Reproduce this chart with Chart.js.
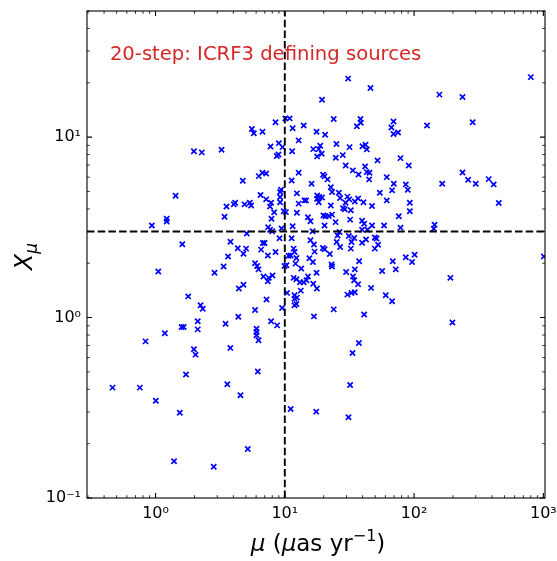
<!DOCTYPE html>
<html>
<head>
<meta charset="utf-8">
<script src="https://cdn.jsdelivr.net/npm/chart.js@4.4.1/dist/chart.umd.min.js"></script>
<style>
html,body{margin:0;padding:0;background:#ffffff;}
canvas{display:block;}
</style>
</head>
<body>
<canvas id="c" width="557" height="561" style="width:557px;height:561px"></canvas>
<script>
// ---- data ----
const muValues = [
 1.98,2.28,3.24,1.43,0.936,1.22,1.22,3.54,4.03,4.13,3.42,1.61,3.80,4.33,3.64,3.36,2.86,1.05,1.79,2.23,
 2.32,4.41,2.12,2.12,1.59,1.65,1.18,0.837,3.48,4.37,1.98,2.04,3.79,1.72,3.59,0.465,0.756,1.005,1.54,1.39,
 2.82,7.83,8.72,6.04,6.04,6.04,6.26,6.18,4.54,11.1,17.5,5.17,16.8,19.4,10.1,10.9,8.48,5.56,5.76,6.72,
 11.5,14.0,17.6,20.5,12.8,8.99,7.75,9.60,11.4,8.94,8.67,16.6,18.8,18.3,17.8,19.3,6.72,7.17,6.29,4.73,
 12.8,11.3,19.8,20.3,16.1,9.36,9.20,9.20,6.49,7.17,12.4,14.2,14.6,17.8,18.5,17.8,18.3,19.4,21.4,4.88,
 5.36,5.49,7.83,7.69,9.20,8.27,7.89,9.82,10.2,12.8,12.4,15.1,15.8,19.9,20.7,20.3,11.5,7.43,7.69,7.98,
 9.43,16.4,5.08,9.10,11.3,15.8,6.76,6.97,16.8,19.7,20.3,5.02,4.79,6.56,8.48,7.39,11.7,11.9,17.0,10.7,
 11.1,12.3,15.5,16.5,5.89,6.11,6.26,10.3,9.95,12.1,13.4,17.6,6.84,7.52,8.03,7.39,11.7,12.3,13.1,14.0,
 14.7,15.1,16.6,17.7,4.79,13.3,10.4,11.9,12.4,11.9,7.22,12.3,11.9,9.53,5.89,30.9,46.0,23.9,38.5,38.7,
 36.1,69.3,66.8,69.3,75.2,126,25.1,31.7,39.9,42.1,43.1,28.1,24.8,78.5,52.1,91.0,29.6,41.8,33.6,37.2,
 43.1,45.2,44.9,61.5,69.7,86.3,89.4,67.6,22.7,23.2,26.2,54.3,26.8,30.5,31.5,36.9,61.5,29.5,28.2,29.1,
 34.8,40.6,22.7,32.4,47.3,92.7,92.7,76.2,21.9,23.2,32.0,24.7,39.6,41.1,47.3,58.6,78.5,39.6,43.6,26.5,
 25.6,31.3,34.4,32.8,25.2,26.8,39.6,42.5,49.7,51.2,52.7,49.7,32.4,22.3,86.3,101,96.5,37.6,68.4,23.0,
 23.2,34.8,29.8,56.6,72.2,33.7,34.4,36.9,46.5,30.5,32.8,34.8,60.4,67.6,23.9,41.1,37.4,33.4,32.0,31.1,
 800,157,237,284,237,165,262,300,378,413,452,144,142,1010,191,198
];
const xmuValues = [
 8.36,8.23,8.51,4.73,3.24,3.53,3.41,4.13,4.24,4.33,3.62,2.55,2.63,2.42,2.18,1.92,1.77,1.80,1.31,1.17,
 1.12,1.45,0.953,0.860,0.886,0.886,0.818,0.738,0.925,1.01,0.667,0.623,0.679,0.483,0.427,0.409,0.409,0.346,0.297,0.160,
 0.149,0.953,0.905,0.868,0.831,0.797,0.748,0.503,0.371,0.311,0.301,0.187,1.015,16.1,12.7,12.7,12.1,11.1,10.5,10.7,
 11.2,11.6,10.7,10.3,9.59,9.26,8.88,8.80,8.36,8.02,7.85,8.58,8.96,8.58,7.82,8.09,6.35,6.29,6.08,5.73,
 6.35,5.75,6.19,6.06,5.52,5.11,4.96,4.66,4.78,4.52,4.88,4.46,4.46,4.75,4.66,4.55,4.36,4.63,5.83,4.24,
 4.33,4.18,4.33,4.12,4.36,3.83,3.53,3.88,3.84,4.28,3.81,3.60,3.42,3.68,3.64,3.24,3.21,3.17,3.07,3.01,
 3.12,3.01,2.92,2.75,2.75,2.68,2.59,2.59,2.54,2.43,2.39,2.41,2.26,2.38,2.31,2.21,2.41,2.31,2.32,2.20,
 2.21,2.14,2.13,2.03,2.00,1.93,1.85,1.95,1.93,1.99,1.87,1.77,1.69,1.66,1.71,1.59,1.66,1.63,1.57,1.57,
 1.61,1.69,1.54,1.45,1.52,1.41,1.37,1.33,1.29,1.27,1.26,1.19,1.17,1.13,1.10,21.1,18.7,12.6,12.6,12.0,
 11.5,12.2,11.3,10.4,10.6,11.6,9.15,8.80,8.91,9.08,8.55,7.95,7.69,7.65,7.43,6.97,6.97,6.88,6.54,6.21,
 6.40,6.35,5.83,6.00,5.52,5.47,5.11,5.07,5.28,4.96,4.92,4.92,4.60,4.68,4.52,4.57,4.46,4.33,4.04,3.98,
 4.40,4.36,4.18,3.93,4.15,4.33,3.88,3.64,3.65,3.72,3.49,3.38,3.44,3.31,3.24,3.24,3.15,3.07,3.07,2.98,
 2.85,2.83,2.76,2.62,2.62,2.46,2.60,2.71,2.78,2.74,2.53,2.41,2.41,2.25,2.16,2.23,2.03,2.05,2.05,1.97,
 1.92,1.85,1.79,1.81,1.85,1.69,1.61,1.53,1.46,1.34,1.37,1.38,1.33,1.23,1.11,1.04,0.722,0.636,0.423,0.280,
 21.5,17.2,16.7,12.1,6.37,5.52,5.81,5.52,5.85,5.47,4.31,3.27,3.11,2.18,1.66,0.940
];
const muCut = 10;          // vertical dashed line
const xmuCut = 3;          // horizontal dashed line
const xRange = [0.295, 1030];
const yRange = [0.1, 50];
const xTickValues = [1, 10, 100, 1000];
const xTickLabels = ['10\u2070', '10\u00B9', '10\u00B2', '10\u00B3'];
const yTickValues = [0.1, 1, 10];
const yTickLabels = ['10\u207B\u00B9', '10\u2070', '10\u00B9'];
const annotationText = '20-step: ICRF3 defining sources';

// ---- chart ----
const FONT = '"DejaVu Sans", "Liberation Sans", sans-serif';

function drawRuns(ctx, runs, cx, baseline) {
  let w = 0;
  runs.forEach(r => { ctx.font = r.font; r.w = ctx.measureText(r.t).width; w += r.w; });
  let x = cx - w / 2;
  ctx.textAlign = 'left';
  ctx.textBaseline = 'alphabetic';
  runs.forEach(r => { ctx.font = r.font; ctx.fillText(r.t, x, baseline + (r.dy || 0)); x += r.w; });
}

function logTicks(min, max) {
  const out = [];
  for (let k = Math.floor(Math.log10(min)); k <= Math.ceil(Math.log10(max)); k++) {
    for (let m = 1; m < 10; m++) {
      const v = m * Math.pow(10, k);
      if (v >= min * 0.9999 && v <= max * 1.0001) out.push([v, m === 1]);
    }
  }
  return out;
}

const framePlugin = {
  id: 'framePlugin',
  afterDatasetsDraw(chart) {
    const { ctx, chartArea: a, scales } = chart;
    const xs = scales.x, ys = scales.y;
    ctx.save();
    ctx.strokeStyle = '#000';
    // inward ticks on all four sides
    logTicks(xs.min, xs.max).forEach(([v, major]) => {
      const p = xs.getPixelForValue(v);
      const len = major ? 5 : 2.8;
      ctx.lineWidth = major ? 1.1 : 0.8;
      ctx.beginPath();
      ctx.moveTo(p, a.bottom); ctx.lineTo(p, a.bottom - len);
      ctx.moveTo(p, a.top); ctx.lineTo(p, a.top + len);
      ctx.stroke();
    });
    logTicks(ys.min, ys.max).forEach(([v, major]) => {
      const p = ys.getPixelForValue(v);
      const len = major ? 5 : 2.8;
      ctx.lineWidth = major ? 1.1 : 0.8;
      ctx.beginPath();
      ctx.moveTo(a.left, p); ctx.lineTo(a.left + len, p);
      ctx.moveTo(a.right, p); ctx.lineTo(a.right - len, p);
      ctx.stroke();
    });
    ctx.lineWidth = 1.1;
    ctx.strokeRect(a.left, a.top, a.right - a.left, a.bottom - a.top);

    // annotation
    ctx.fillStyle = '#d62728';
    ctx.font = '19.6px ' + FONT;
    ctx.textAlign = 'left';
    ctx.textBaseline = 'alphabetic';
    ctx.fillText(annotationText, a.left + 0.05 * (a.right - a.left), a.top + 0.1 * (a.bottom - a.top));

    // axis titles
    ctx.fillStyle = '#000';
    const big = '23px ' + FONT, bigI = 'italic 23px ' + FONT, sm = '16px ' + FONT;
    drawRuns(ctx, [
      { t: '\u03BC', font: bigI },
      { t: ' (', font: big },
      { t: '\u03BC', font: bigI },
      { t: 'as yr', font: big },
      { t: '\u22121', font: sm, dy: -10 },
      { t: ')', font: big }
    ], (a.left + a.right) / 2 + 2, 551);

    ctx.translate(32, (a.top + a.bottom) / 2 + 2);
    ctx.rotate(-Math.PI / 2);
    drawRuns(ctx, [
      { t: 'X', font: 'italic 24px ' + FONT },
      { t: '\u03BC', font: 'italic 17px ' + FONT, dy: 5 }
    ], 0, 0);
    ctx.restore();
  }
};

const points = muValues.map((m, i) => ({ x: m, y: xmuValues[i] }));

new Chart(document.getElementById('c'), {
  type: 'scatter',
  data: {
    datasets: [
      {
        data: [{ x: muCut, y: yRange[0] }, { x: muCut, y: yRange[1] }],
        showLine: true, borderColor: '#000', borderWidth: 1.9, borderDash: [7.5, 3.2],
        pointRadius: 0, fill: false
      },
      {
        data: [{ x: xRange[0], y: xmuCut }, { x: xRange[1], y: xmuCut }],
        showLine: true, borderColor: '#000', borderWidth: 1.9, borderDash: [7.5, 3.2],
        pointRadius: 0, fill: false
      },
      {
        data: points,
        pointStyle: 'crossRot', pointRadius: 3.7, pointHoverRadius: 3.7,
        borderColor: '#0000ff', backgroundColor: '#0000ff', pointBorderWidth: 1.7
      }
    ]
  },
  options: {
    responsive: false,
    animation: false,
    events: [],
    layout: { padding: { left: 0, right: 12, top: 11, bottom: 0 } },
    plugins: { legend: { display: false }, tooltip: { enabled: false } },
    scales: {
      x: {
        type: 'logarithmic', min: xRange[0], max: xRange[1],
        afterBuildTicks: s => { s.ticks = xTickValues.map(v => ({ value: v, major: true })); },
        afterFit: s => { s.height = 63; s.paddingLeft = 0; s.paddingRight = 0; },
        grid: { display: false, drawTicks: false },
        border: { display: false },
        ticks: {
          autoSkip: false, maxRotation: 0, padding: 6, color: '#000',
          font: { family: FONT, size: 16 },
          callback: (v, i) => xTickLabels[i]
        }
      },
      y: {
        type: 'logarithmic', min: yRange[0], max: yRange[1],
        afterBuildTicks: s => { s.ticks = yTickValues.map(v => ({ value: v, major: true })); },
        afterFit: s => { s.width = 87; s.paddingTop = 0; s.paddingBottom = 0; },
        grid: { display: false, drawTicks: false },
        border: { display: false },
        ticks: {
          autoSkip: false, padding: 6, color: '#000',
          font: { family: FONT, size: 16 },
          callback: (v, i) => yTickLabels[i]
        }
      }
    }
  },
  plugins: [framePlugin]
});
</script>
</body>
</html>
